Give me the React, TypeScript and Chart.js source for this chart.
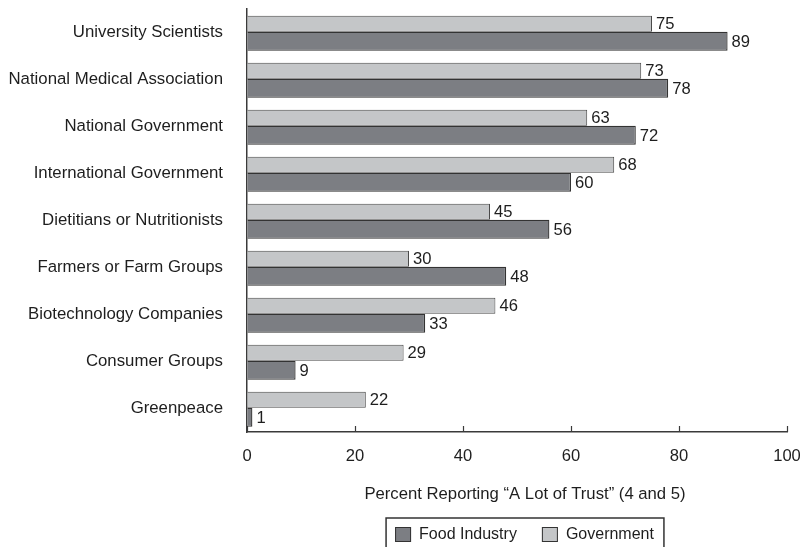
import React, { useEffect, useRef } from "react";
import { Chart, registerables } from "chart.js";

Chart.register(...registerables);

const categories = [
  "University Scientists",
  "National Medical Association",
  "National Government",
  "International Government",
  "Dietitians or Nutritionists",
  "Farmers or Farm Groups",
  "Biotechnology Companies",
  "Consumer Groups",
  "Greenpeace",
];
const governmentValues = [75, 73, 63, 68, 45, 30, 46, 29, 22];
const foodIndustryValues = [89, 78, 72, 60, 56, 48, 33, 9, 1];
const xTickValues = [0, 20, 40, 60, 80, 100];
const axisTitle = "Percent Reporting \u201CA Lot of Trust\u201D (4 and 5)";
const legendItems = [
  { label: "Food Industry", color: "#7c7e83" },
  { label: "Government", color: "#c4c6c8" },
];

const FONT = "'Liberation Sans', Arial, Helvetica, sans-serif";
const TEXT = "#1e1e1e";
const AXIS = "#3a3a3a";

const overlayPlugin = {
  id: "overlay",
  afterDraw(chart: any) {
    const ctx = chart.ctx;
    const area = chart.chartArea;
    const xs = chart.scales.x;
    ctx.save();
    // inward tick marks on x axis
    ctx.strokeStyle = AXIS;
    ctx.lineWidth = 1.2;
    xs.ticks.forEach((_t: any, i: number) => {
      const px = Math.round(xs.getPixelForTick(i)) + 0.5;
      ctx.beginPath();
      ctx.moveTo(px, area.bottom);
      ctx.lineTo(px, area.bottom - 6);
      ctx.stroke();
    });
    // value labels
    ctx.fillStyle = TEXT;
    ctx.font = `16.6px ${FONT}`;
    ctx.textAlign = "left";
    ctx.textBaseline = "middle";
    chart.data.datasets.forEach((ds: any, di: number) => {
      const meta = chart.getDatasetMeta(di);
      meta.data.forEach((el: any, j: number) => {
        const p = el.getProps(["x", "y"], true);
        ctx.fillText(String(ds.data[j]), p.x + 4, p.y + 1);
      });
    });
    // axis title
    const cx = (area.left + area.right) / 2 + 8;
    ctx.textAlign = "center";
    ctx.font = `16.7px ${FONT}`;
    ctx.fillText(axisTitle, cx, area.bottom + 62);
    // legend
    ctx.font = `16px ${FONT}`;
    const widths = legendItems.map((it) => ctx.measureText(it.label).width);
    const total = 9 + 16 + 8 + widths[0] + 25 + 16 + 8 + widths[1] + 10;
    const bx = cx - total / 2;
    const by = area.bottom + 86;
    ctx.strokeStyle = "#333";
    ctx.lineWidth = 1.5;
    ctx.strokeRect(bx, by, total, 60);
    let x = bx + 9;
    ctx.textAlign = "left";
    legendItems.forEach((it, i) => {
      ctx.fillStyle = it.color;
      ctx.fillRect(x, by + 9, 16, 15);
      ctx.strokeStyle = "#333";
      ctx.lineWidth = 1;
      ctx.strokeRect(x + 0.5, by + 9.5, 15, 14);
      ctx.fillStyle = TEXT;
      ctx.fillText(it.label, x + 24, by + 17);
      x += 24 + widths[i] + 25;
    });
    ctx.restore();
  },
};

export default function App() {
  const ref = useRef<HTMLCanvasElement | null>(null);
  useEffect(() => {
    if (!ref.current) return;
    const chart = new Chart(ref.current, {
      type: "bar",
      data: {
        labels: categories,
        datasets: [
          {
            label: "Government",
            data: governmentValues,
            backgroundColor: "#c4c6c8",
            borderColor: "#4a4a4a",
            borderWidth: 1,
            barPercentage: 0.914,
            categoryPercentage: 0.745,
          },
          {
            label: "Food Industry",
            data: foodIndustryValues,
            backgroundColor: "#7c7e83",
            borderColor: "#333333",
            borderWidth: 1.3,
            barPercentage: 1.086,
            categoryPercentage: 0.745,
          },
        ],
      },
      options: {
        indexAxis: "y",
        responsive: false,
        animation: false,
        layout: { padding: { top: 9, right: 13, left: 0, bottom: 0 } },
        plugins: {
          legend: { display: false },
          tooltip: { enabled: false },
        },
        scales: {
          x: {
            type: "linear",
            min: 0,
            max: 100,
            afterBuildTicks: (scale: any) => {
              scale.ticks = xTickValues.map((v) => ({ value: v }));
            },
            afterFit: (scale: any) => {
              scale.height = 115;
              scale.paddingLeft = 0;
              scale.paddingRight = 0;
              scale.paddingTop = 0;
              scale.paddingBottom = 0;
            },
            grid: { display: true, drawOnChartArea: false, drawTicks: false },
            border: { display: true, color: AXIS, width: 1.5 },
            ticks: {
              color: TEXT,
              font: { family: FONT, size: 16.6 },
              padding: 14,
              maxRotation: 0,
            },
          },
          y: {
            type: "category",
            afterFit: (scale: any) => {
              scale.width = 247;
              scale.paddingLeft = 0;
              scale.paddingRight = 0;
              scale.paddingTop = 0;
              scale.paddingBottom = 0;
            },
            grid: { display: true, drawOnChartArea: false, drawTicks: false },
            border: { display: true, color: AXIS, width: 1.5 },
            ticks: {
              color: TEXT,
              font: { family: FONT, size: 16.8 },
              padding: 24,
            },
          },
        },
      },
      plugins: [overlayPlugin],
    } as any);
    return () => chart.destroy();
  }, []);
  return (
    <div style={{ position: "fixed", left: 0, top: 0, width: 800, height: 547, background: "#fff" }}>
      <canvas ref={ref} width={800} height={547} style={{ display: "block" }} />
    </div>
  );
}
